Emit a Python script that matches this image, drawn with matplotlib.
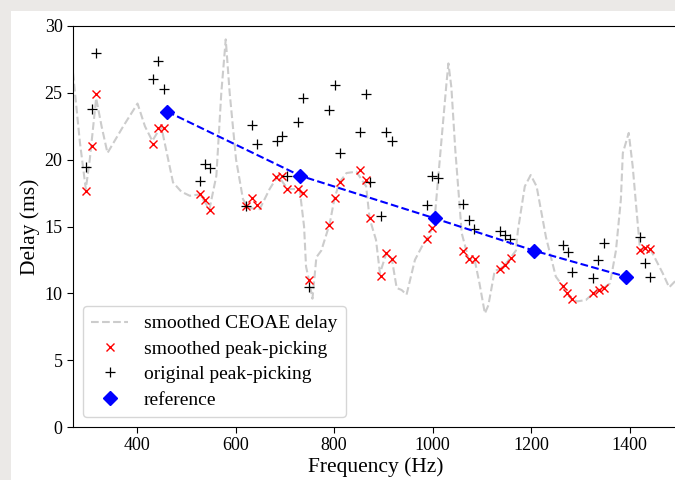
import numpy as np
import matplotlib
matplotlib.use("Agg")
import matplotlib.pyplot as plt
from matplotlib.patches import Rectangle

plt.rcParams['font.family'] = ['Liberation Serif', 'DejaVu Serif']

# smoothed CEOAE delay curve
curve_f = [270, 284, 296, 304, 317, 328, 340, 372, 401, 416, 431, 449, 473, 490,
           507, 527, 547, 561, 571, 580, 588, 601, 615, 625, 649, 669, 686, 706,
           730, 739, 743, 749, 756, 764, 774, 791, 801, 811, 825, 845, 865, 872,
           885, 893, 906, 917, 927, 937, 947, 964, 981, 989, 999, 1005, 1018,
           1028, 1032, 1038, 1046, 1059, 1073, 1085, 1095, 1106, 1113, 1126,
           1136, 1146, 1158, 1169, 1173, 1187, 1199, 1211, 1230, 1250, 1264,
           1273, 1282, 1294, 1311, 1326, 1337, 1347, 1360, 1372, 1382, 1386,
           1398, 1406, 1416, 1421, 1432, 1442, 1467, 1480, 1500]
curve_d = [26.5, 21.3, 17.8, 20.0, 24.6, 22.5, 20.5, 22.5, 24.2, 22.5, 21.4, 22.5,
           18.3, 17.6, 17.3, 17.4, 16.3, 18.8, 25.0, 29.0, 25.0, 20.0, 17.05,
           16.4, 16.3, 17.8, 18.8, 17.8, 17.8, 15.0, 12.0, 11.0, 9.6, 12.7, 13.2,
           15.2, 17.15, 18.3, 19.0, 19.1, 18.0, 15.6, 14.0, 11.5, 13.0, 12.6,
           10.4, 10.25, 9.9, 12.5, 13.7, 14.06, 14.9, 16.0, 21.5, 25.7, 27.2,
           25.4, 20.7, 14.5, 12.55, 12.55, 10.75, 8.5, 9.1, 11.7, 11.8, 12.1,
           12.66, 13.2, 14.7, 18.0, 18.85, 18.0, 14.2, 11.25, 10.55, 10.0, 9.55,
           9.4, 9.5, 10.0, 10.25, 10.4, 10.75, 13.2, 17.0, 20.5, 22.0, 19.5,
           15.3, 13.25, 13.4, 13.3, 11.5, 10.45, 11.2]

# peaks picked on the smoothed curve
smooth_f = [297, 308, 317, 432, 443, 454, 527, 538, 548, 622, 634, 644, 683, 695,
            705, 727, 737, 749, 789, 801, 811, 852, 864, 872, 896, 906, 917, 989,
            999, 1061, 1073, 1085, 1136, 1146, 1158, 1264, 1273, 1282, 1326,
            1337, 1347, 1421, 1432, 1442]
smooth_d = [17.65, 21.0, 24.9, 21.2, 22.4, 22.4, 17.45, 17.0, 16.25, 16.5, 17.1,
            16.6, 18.7, 18.8, 17.8, 17.8, 17.5, 11.0, 15.1, 17.15, 18.3, 19.2,
            18.5, 15.6, 11.3, 13.0, 12.6, 14.06, 14.9, 13.2, 12.55, 12.55, 11.8,
            12.1, 12.66, 10.55, 10.0, 9.55, 10.0, 10.25, 10.4, 13.25, 13.4, 13.3]

# peaks picked on the original curve
orig_f = [297, 308, 317, 432, 443, 454, 527, 538, 549, 622, 634, 644, 684, 695,
          705, 727, 737, 749, 790, 801, 811, 853, 864, 873, 896, 906, 917, 989,
          999, 1010, 1062, 1074, 1084, 1136, 1146, 1157, 1264, 1274, 1283, 1325,
          1336, 1347, 1421, 1432, 1442]
orig_d = [19.45, 23.76, 28.0, 26.0, 27.4, 25.26, 18.4, 19.65, 19.4, 16.5, 22.6,
          21.2, 21.4, 21.8, 18.8, 22.8, 24.6, 10.45, 23.7, 25.6, 20.5, 22.1, 24.9,
          18.3, 15.8, 22.06, 21.4, 16.6, 18.8, 18.65, 16.7, 15.5, 14.8, 14.7,
          14.4, 14.1, 13.6, 13.06, 11.6, 11.15, 12.5, 13.8, 14.2, 12.3, 11.2]

ref_f = [461, 731, 1005, 1205, 1392]
ref_d = [23.6, 18.8, 15.6, 13.2, 11.25]

fig = plt.figure(figsize=(6.75, 4.8), dpi=100, facecolor='#ebe9e7')
fig.patches.append(Rectangle((11/675, 0), 1, 1 - 11/480, transform=fig.transFigure,
                             facecolor='white', edgecolor='none', zorder=-5))
ax = fig.add_axes([73/675, 53/480, 606/675, 401/480], zorder=2)

ax.plot(curve_f, curve_d, '--', color='#cccccc', lw=1.5, label='smoothed CEOAE delay')
ax.plot(smooth_f, smooth_d, 'x', color='red', ms=6, mew=1.0, label='smoothed peak-picking')
ax.plot(orig_f, orig_d, '+', color='black', ms=7, mew=0.9, label='original peak-picking')
ax.plot(ref_f, ref_d, '--', color='blue', lw=1.5)
ax.plot(ref_f, ref_d, 'D', color='blue', ms=7, label='reference')

ax.set_xlim(270, 1500)
ax.set_ylim(0, 30)
ax.set_xticks([400, 600, 800, 1000, 1200, 1400])
ax.set_yticks([0, 5, 10, 15, 20, 25, 30])
ax.tick_params(labelsize=13, length=4)
ax.set_xlabel('Frequency (Hz)', fontsize=15.5, labelpad=2)
ax.set_ylabel('Delay (ms)', fontsize=15.5, labelpad=3)
ax.legend(loc='lower left', fontsize=14, handlelength=1.9, borderpad=0.45,
          labelspacing=0.4, framealpha=0.8, borderaxespad=0.5)

fig.savefig('out.png', dpi=100, facecolor=fig.get_facecolor())
